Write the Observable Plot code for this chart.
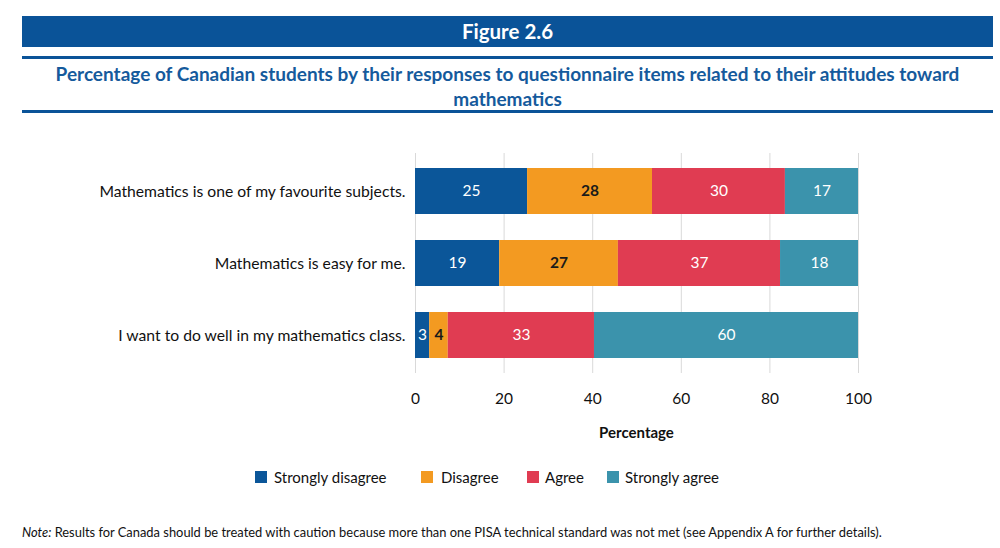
<!DOCTYPE html>
<html>
<head>
<meta charset="utf-8">
<script src="https://cdn.jsdelivr.net/npm/d3@7"></script>
<script src="https://cdn.jsdelivr.net/npm/@observablehq/plot@0.6"></script>
<style>
  html, body { margin: 0; padding: 0; background: #fff; }
  body { width: 1000px; height: 548px; position: relative; overflow: hidden; font-family: Lato, "Open Sans", sans-serif; }
  .bar { position: absolute; left: 22px; width: 971px; background: #0A5398; }
  #header { top: 16px; height: 31px; color: #fff; font-weight: bold; font-size: 20.5px; text-align: center; line-height: 31px; }
  .rule { height: 3px; }
  #subtitle { position: absolute; left: 22px; width: 971px; top: 61px; text-align: center; color: #155A9C; font-weight: bold; font-size: 19px; line-height: 25px; }
  #chart { position: absolute; left: 0; top: 145px; }
  #xlabel { position: absolute; left: 415px; width: 443px; top: 423px; text-align: center; font-weight: bold; font-size: 15px; color: #111; }
  #legend { position: absolute; top: 467px; left: 0; width: 1000px; font-size: 15px; color: #111; }
  .sw { position: absolute; top: 4px; width: 12px; height: 12px; }
  .lt { position: absolute; top: 0; line-height: 20px; white-space: nowrap; }
  #note { position: absolute; left: 22px; top: 524px; font-size: 12.9px; color: #111; white-space: nowrap; }
</style>
</head>
<body>
<div id="header" class="bar">Figure 2.6</div>
<div class="bar rule" style="top:56px"></div>
<div id="subtitle">Percentage of Canadian students by their responses to questionnaire items related to their attitudes toward<br>mathematics</div>
<div class="bar rule" style="top:110px"></div>
<div id="chart"></div>
<div id="xlabel">Percentage</div>
<div id="legend"></div>
<div id="note"><i>Note:</i> Results for Canada should be treated with caution because more than one PISA technical standard was not met (see Appendix A for further details).</div>
<script>
const items = [
  "Mathematics is one of my favourite subjects.",
  "Mathematics is easy for me.",
  "I want to do well in my mathematics class."
];
const responses = ["Strongly disagree", "Disagree", "Agree", "Strongly agree"];
const colors = ["#0B5699", "#F39A21", "#E03C52", "#3B93AC"];
const labelColors = ["#ffffff", "#1a1a1a", "#ffffff", "#ffffff"];
const labelWeights = ["normal", "bold", "normal", "normal"];
const stronglyDisagree = [25.3, 19.0, 3.2];
const disagree = [28.2, 26.8, 4.2];
const agree = [30.0, 36.6, 33.0];
const stronglyAgree = [16.5, 17.6, 59.6];
const shownLabels = {
  "Strongly disagree": [25, 19, 3],
  "Disagree": [28, 27, 4],
  "Agree": [30, 37, 33],
  "Strongly agree": [17, 18, 60]
};
const xTicks = [0, 20, 40, 60, 80, 100];

const series = [stronglyDisagree, disagree, agree, stronglyAgree];
const data = [];
items.forEach((item, i) => {
  responses.forEach((r, j) => {
    data.push({item, response: r, value: series[j][i], label: shownLabels[r][i], lc: labelColors[j], bold: labelWeights[j] === "bold"});
  });
});
const normalData = data.filter(d => !d.bold);
const boldData = data.filter(d => d.bold);

const textOpts = {x: "value", y: "item", z: "response", order: null, text: "label", fill: "lc", fontSize: 15.5};

const chart = Plot.plot({
  width: 1000,
  height: 300,
  marginLeft: 415,
  marginRight: 142,
  marginTop: 8,
  marginBottom: 72,
  style: {fontFamily: "Lato, 'Open Sans', sans-serif", fontSize: "15px", color: "#111", background: "#fff"},
  x: {domain: [0, 100], ticks: xTicks, label: null, tickSize: 0, tickPadding: 19},
  y: {domain: items, label: null, paddingInner: 0.356, paddingOuter: 0.185, tickSize: 0, tickPadding: 10},
  color: {domain: responses, range: colors},
  marks: [
    Plot.gridX(xTicks, {stroke: "#d9d9d9", strokeOpacity: 1, strokeWidth: 1}),
    Plot.barX(data, Plot.stackX({x: "value", y: "item", fill: "response", order: null})),
    Plot.text(data, Plot.stackX({...textOpts, fill: d => d.bold ? "none" : d.lc})),
    Plot.text(data, Plot.stackX({...textOpts, fill: d => d.bold ? d.lc : "none", fontWeight: "bold"})),
    Plot.axisY({tickSize: 0, tickPadding: 10, fontSize: 15.7, label: null}),
    Plot.axisX({ticks: xTicks, tickSize: 0, tickPadding: 19, fontSize: 15.5, label: null})
  ]
});
document.getElementById("chart").appendChild(chart);

const legendPos = [[255, 274], [421, 441], [527, 545], [607, 625]];
const legend = document.getElementById("legend");
responses.forEach((r, j) => {
  const sw = document.createElement("div");
  sw.className = "sw"; sw.style.left = legendPos[j][0] + "px"; sw.style.background = colors[j];
  const t = document.createElement("div");
  t.className = "lt"; t.style.left = legendPos[j][1] + "px"; t.textContent = r;
  legend.appendChild(sw); legend.appendChild(t);
});
</script>
</body>
</html>
